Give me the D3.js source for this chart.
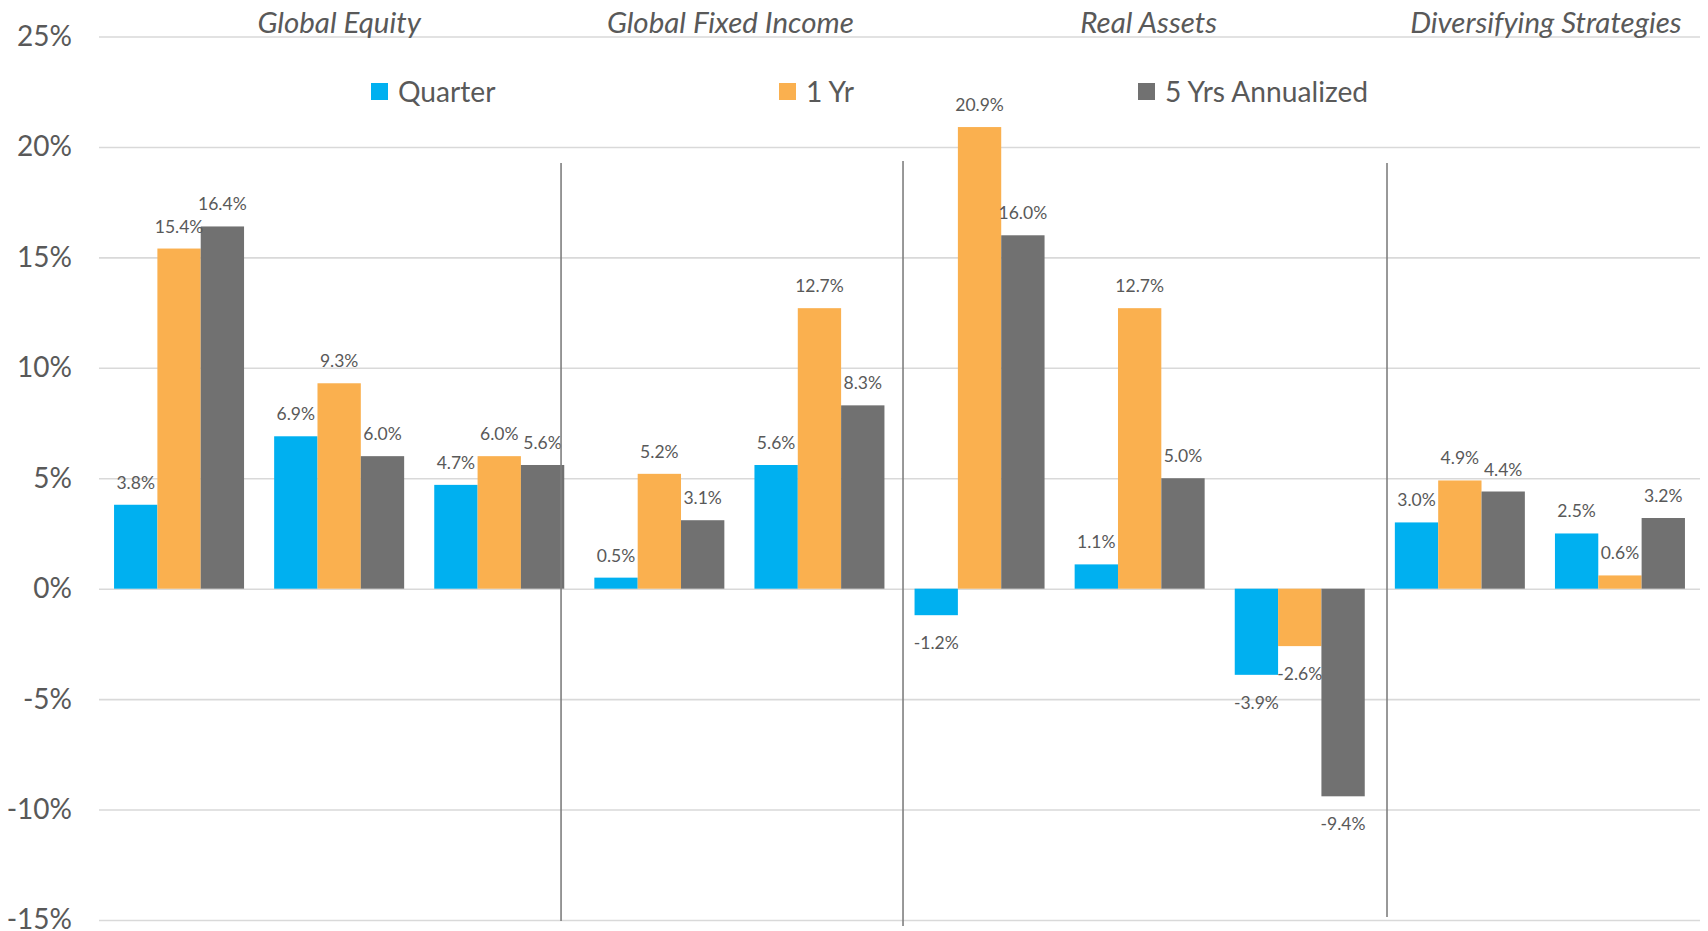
<!DOCTYPE html>
<html>
<head>
<meta charset="utf-8">
<script src="https://cdn.jsdelivr.net/npm/d3@7"></script>
<style>
  body { margin: 0; background: #ffffff; }
  svg { display: block; }
  text { font-family: Lato, "Open Sans", "Liberation Sans", sans-serif; fill: #595959; }
</style>
</head>
<body>
<svg id="chart" width="1708" height="931"></svg>
<script>
// Asset-class groups and how many sub-categories each one holds
const groups = ["Global Equity", "Global Fixed Income", "Real Assets", "Diversifying Strategies"];
const groupSizes = [3, 2, 3, 2];
const categories = ["GE-1", "GE-2", "GE-3", "GFI-1", "GFI-2", "RA-1", "RA-2", "RA-3", "DS-1", "DS-2"];

// Returns (%) per sub-category
const seriesNames = ["Quarter", "1 Yr", "5 Yrs Annualized"];
const quarter  = [3.8, 6.9, 4.7, 0.5, 5.6, -1.2, 1.1, -3.9, 3.0, 2.5];
const oneYear  = [15.4, 9.3, 6.0, 5.2, 12.7, 20.9, 12.7, -2.6, 4.9, 0.6];
const fiveYear = [16.4, 6.0, 5.6, 3.1, 8.3, 16.0, 5.0, -9.4, 4.4, 3.2];

const yTicks = [25, 20, 15, 10, 5, 0, -5, -10, -15];

// ---- layout / style ----
const plotLeft = 99, plotRight = 1700, plotTop = 36.5, plotBottom = 920;
const colors = ["#00B0F0", "#FAB04F", "#717171"];
const legendX = [371, 779, 1138];
const titleDx = [0, -9, 9, 6];
// divider lines, in category steps from the left edge of the plot
const dividerAt = [2.886, 5.022, 8.045];
const dividerY = [[163, 921], [161, 926], [163, 917]];

const svg = d3.select("#chart");

const x = d3.scaleBand()
  .domain(categories)
  .range([plotLeft, plotRight])
  .paddingInner(0.188)
  .paddingOuter(0.094);

const xs = d3.scaleBand()
  .domain(seriesNames)
  .range([0, x.bandwidth()]);

const y = d3.scaleLinear()
  .domain([-15, 25])
  .range([plotBottom, plotTop]);

const color = d3.scaleOrdinal().domain(seriesNames).range(colors);

// gridlines
svg.append("g")
  .attr("transform", `translate(${plotLeft},0)`)
  .call(d3.axisLeft(y).tickValues(yTicks).tickSize(-(plotRight - plotLeft)).tickFormat(""))
  .call(g => g.select(".domain").remove())
  .call(g => g.selectAll(".tick line").attr("stroke", "#d9d9d9").attr("stroke-width", 1.6));

// y-axis labels
svg.append("g")
  .attr("transform", `translate(${plotLeft},0)`)
  .call(d3.axisLeft(y).tickValues(yTicks).tickSize(0).tickPadding(27).tickFormat(d => d + "%"))
  .call(g => g.select(".domain").remove())
  .call(g => g.selectAll(".tick text")
    .attr("fill", "#595959")
    .style("font-family", "Lato, 'Open Sans', sans-serif")
    .style("font-size", "28px"));

// bars
const rows = categories.map((c, i) => ({
  cat: c,
  vals: [quarter[i], oneYear[i], fiveYear[i]].map((v, k) => ({ series: seriesNames[k], value: v, cat: c }))
}));

const cluster = svg.append("g").selectAll("g")
  .data(rows)
  .join("g")
  .attr("transform", d => `translate(${x(d.cat)},0)`);

cluster.selectAll("rect")
  .data(d => d.vals)
  .join("rect")
  .attr("x", d => xs(d.series))
  .attr("width", xs.bandwidth())
  .attr("y", d => y(Math.max(0, d.value)))
  .attr("height", d => Math.abs(y(d.value) - y(0)))
  .attr("fill", d => color(d.series));

// value labels
cluster.selectAll("text")
  .data(d => d.vals)
  .join("text")
  .attr("x", d => xs(d.series) + xs.bandwidth() / 2)
  .attr("y", d => d.value >= 0 ? y(d.value) - 16 : y(d.value) + 34)
  .attr("text-anchor", "middle")
  .style("font-size", "17.5px")
  .text(d => d.value.toFixed(1) + "%");

// group divider lines
const step = x.step();
svg.append("g").selectAll("line")
  .data(dividerAt)
  .join("line")
  .attr("x1", d => plotLeft + d * step)
  .attr("x2", d => plotLeft + d * step)
  .attr("y1", (d, i) => dividerY[i][0])
  .attr("y2", (d, i) => dividerY[i][1])
  .attr("stroke", "#7f7f7f")
  .attr("stroke-width", 1.6);

// group titles
let start = 0;
const groupInfo = groups.map((g, i) => {
  const first = categories[start];
  const last = categories[start + groupSizes[i] - 1];
  start += groupSizes[i];
  return { name: g, cx: (x(first) + x(last) + x.bandwidth()) / 2 + titleDx[i] };
});

svg.append("g").selectAll("text")
  .data(groupInfo)
  .join("text")
  .attr("x", d => d.cx)
  .attr("y", 33)
  .attr("text-anchor", "middle")
  .style("font-style", "italic")
  .style("font-size", "29.5px")
  .text(d => d.name);

// legend
const legend = svg.append("g").selectAll("g")
  .data(seriesNames)
  .join("g")
  .attr("transform", (d, i) => `translate(${legendX[i]},0)`);

legend.append("rect")
  .attr("x", 0).attr("y", 83)
  .attr("width", 17).attr("height", 17)
  .attr("fill", d => color(d));

legend.append("text")
  .attr("x", 27).attr("y", 102)
  .style("font-size", "28.2px")
  .text(d => d);
</script>
</body>
</html>
